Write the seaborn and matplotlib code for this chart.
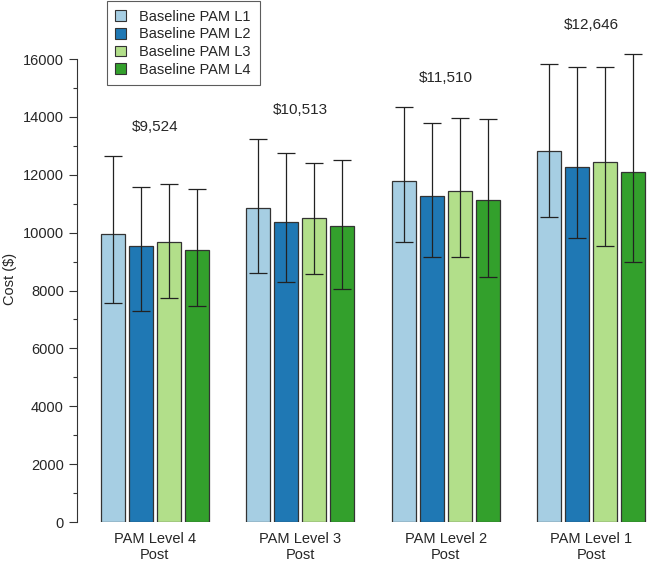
import matplotlib.pyplot as plt
import matplotlib.patches as mpatches
import numpy as np
import pandas as pd
import seaborn as sns

groups = ["PAM Level 4\nPost", "PAM Level 3\nPost", "PAM Level 2\nPost", "PAM Level 1\nPost"]
baselines = ["Baseline PAM L1", "Baseline PAM L2", "Baseline PAM L3", "Baseline PAM L4"]
colors = ["#a6cee3", "#1f78b4", "#b2df8a", "#33a02c"]

# mean cost per baseline level for each post group
mean_l1 = [9970, 10840, 11785, 12820]
mean_l2 = [9540, 10380, 11265, 12265]
mean_l3 = [9665, 10505, 11440, 12430]
mean_l4 = [9390, 10220, 11115, 12085]

low_l1 = [7560, 8595, 9665, 10530]
low_l2 = [7280, 8280, 9160, 9815]
low_l3 = [7750, 8560, 9150, 9550]
low_l4 = [7455, 8040, 8465, 8975]

high_l1 = [12660, 13245, 14350, 15825]
high_l2 = [11590, 12765, 13780, 15710]
high_l3 = [11670, 12415, 13950, 15710]
high_l4 = [11495, 12510, 13925, 16180]

group_labels = ["$9,524", "$10,513", "$11,510", "$12,646"]

means = [mean_l1, mean_l2, mean_l3, mean_l4]
lows = [low_l1, low_l2, low_l3, low_l4]
highs = [high_l1, high_l2, high_l3, high_l4]

rows = []
for b, m, lo, hi in zip(baselines, means, lows, highs):
    for g, v, l, h in zip(groups, m, lo, hi):
        rows.append({"group": g, "baseline": b, "cost": v, "low": l, "high": h})
df = pd.DataFrame(rows)

sns.set_style("white")
plt.rcParams["font.family"] = ["Liberation Sans", "DejaVu Sans"]

fig = plt.figure(figsize=(6.49, 5.61), dpi=100)
ax = fig.add_axes([0.1186, 0.0695, 0.88, 0.9305])

sns.barplot(
    data=df, x="group", y="cost", hue="baseline", order=groups, hue_order=baselines,
    palette=colors, saturation=1, width=0.77, gap=0.15, errorbar=None,
    edgecolor="#333333", linewidth=0.9, legend=False, ax=ax,
)

# asymmetric error bars placed on the drawn bars
for i, b in enumerate(baselines):
    sub = df[df["baseline"] == b].set_index("group").loc[groups]
    bars = ax.patches[i * len(groups):(i + 1) * len(groups)]
    xs = [p.get_x() + p.get_width() / 2 for p in bars]
    yerr = np.array([sub["cost"] - sub["low"], sub["high"] - sub["cost"]])
    ax.errorbar(xs, sub["cost"], yerr=yerr, fmt="none", ecolor="#222222",
                elinewidth=0.9, capsize=6.5, capthick=0.9)

for j, lab in enumerate(group_labels):
    top = max(h[j] for h in highs)
    ax.text(j, top + 1000, lab, ha="center", va="center", fontsize=11)

ax.set_xlim(-0.535, 3.39)
ax.set_ylim(0, 18040)
ax.set_yticks(range(0, 16001, 2000))
ax.set_yticks(range(1000, 16000, 2000), minor=True)
ax.tick_params(axis="y", which="major", direction="out", length=6, width=0.8,
               left=True, labelsize=10.5, color="#333333")
ax.tick_params(axis="y", which="minor", direction="out", length=3, width=0.8,
               left=True, color="#333333")
ax.tick_params(axis="x", length=0, labelsize=10.5, pad=7)
for s in ["top", "right", "bottom"]:
    ax.spines[s].set_visible(False)
ax.spines["left"].set_bounds(0, 16000)
ax.spines["left"].set_color("#333333")
ax.spines["left"].set_linewidth(0.8)
ax.set_xlabel("")
ax.set_ylabel("Cost ($)", fontsize=10.5, va="center")
ax.yaxis.set_label_coords(-0.118, 0.465)

handles = [mpatches.Patch(facecolor=c, edgecolor="#333333", linewidth=0.8, label=b)
           for c, b in zip(colors, baselines)]
leg = ax.legend(handles=handles, loc="upper left", bbox_to_anchor=(0.052, 0.998),
                frameon=True, fancybox=False, fontsize=10.5, handlelength=0.75,
                handleheight=0.75, handletextpad=0.9, labelspacing=0.25,
                borderpad=0.6, borderaxespad=0)
leg.get_frame().set_edgecolor("#333333")
leg.get_frame().set_linewidth(0.8)

fig.savefig("out.png", dpi=100)
